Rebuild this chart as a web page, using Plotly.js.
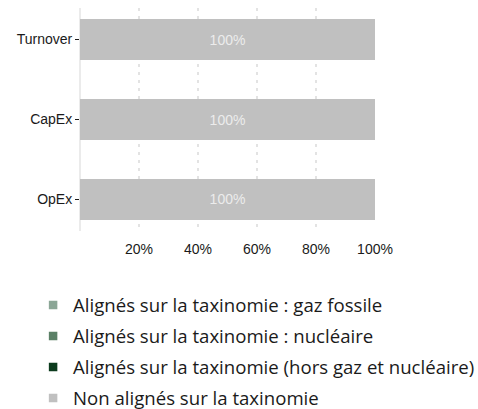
<!DOCTYPE html>
<html><head><meta charset="utf-8">
<script src="https://cdn.plot.ly/plotly-3.0.1.min.js"></script>
<style>html,body{margin:0;padding:0;background:#fff}#chart{width:478px;height:409px}</style>
</head><body><div id="chart"></div>
<script>
const categories = ['OpEx', 'CapEx', 'Turnover'];
const seriesNames = [
  'Alignés sur la taxinomie : gaz fossile',
  'Alignés sur la taxinomie : nucléaire',
  'Alignés sur la taxinomie (hors gaz et nucléaire)',
  'Non alignés sur la taxinomie'
];
const gasFossil = [0, 0, 0];
const nuclear = [0, 0, 0];
const alignedOther = [0, 0, 0];
const nonAligned = [1, 1, 1];
const seriesColors = ['#8ba696', '#5b8066', '#0c3b1d', '#c0c0c0'];
const tickVals = [0, 0.2, 0.4, 0.6, 0.8, 1.0];
const tickText = ['', '20%', '40%', '60%', '80%', '100%'];

const seriesValues = [gasFossil, nuclear, alignedOther, nonAligned];
const legendIds = ['legend', 'legend2', 'legend3', 'legend4'];
const traces = [];
seriesValues.forEach((vals, i) => {
  traces.push({
    type: 'bar', orientation: 'h', y: categories, x: vals,
    marker: {color: seriesColors[i]}, showlegend: false,
    text: vals.map(v => v > 0 ? Math.round(v * 100) + '%' : ''),
    textposition: 'inside', insidetextanchor: 'middle',
    textfont: {color: '#ececec', size: 14, family: 'Liberation Sans, Arial, sans-serif'},
    hoverinfo: 'skip', cliponaxis: false
  });
});
seriesValues.forEach((vals, i) => {
  traces.push({
    type: 'scatter', mode: 'markers', x: [null], y: [null],
    name: seriesNames[i], showlegend: true, legend: legendIds[i],
    marker: {symbol: 'square', size: 8.5, color: seriesColors[i]}
  });
});

const legendFont = {family: 'Open Sans, sans-serif', size: 18.6, color: '#1a1a1a'};
const legendTop = -0.2489, legendStep = 0.1390;

const layout = {
  width: 478, height: 409,
  margin: {l: 80, r: 103, t: 8, b: 178, autoexpand: false},
  paper_bgcolor: '#fff', plot_bgcolor: '#fff',
  barmode: 'stack', bargap: 0.4875,
  font: {family: 'Liberation Sans, Arial, sans-serif', size: 14, color: '#1a1a1a'},
  xaxis: {
    range: [0, 1.0], tickvals: tickVals, ticktext: tickText,
    showgrid: true, gridcolor: '#e3e3e3', gridwidth: 1.2, griddash: '3px,5px',
    zeroline: true, zerolinecolor: '#ebebeb', zerolinewidth: 1.5,
    ticks: 'outside', ticklen: 5, tickcolor: 'rgba(0,0,0,0)',
    showline: false, tickfont: {size: 14, color: '#1a1a1a'}, fixedrange: true
  },
  yaxis: {
    type: 'category', categoryorder: 'array', categoryarray: categories,
    range: [-0.394, 2.394], showgrid: false, zeroline: false, showline: false,
    ticks: 'outside', ticklen: 4, tickwidth: 1.5, tickcolor: '#1a1a1a',
    tickfont: {size: 14, color: '#1a1a1a'}, fixedrange: true
  },
  showlegend: true
};
legendIds.forEach((id, i) => {
  layout[id] = {
    x: -0.159, xanchor: 'left', y: legendTop - i * legendStep, yanchor: 'top',
    orientation: 'v', font: legendFont, itemwidth: 30, bgcolor: 'rgba(0,0,0,0)'
  };
});
Plotly.newPlot('chart', traces, layout, {displayModeBar: false, staticPlot: true});
</script></body></html>
